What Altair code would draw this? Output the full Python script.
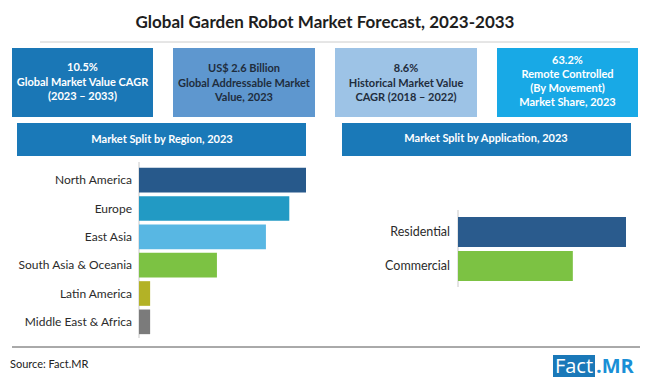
import altair as alt
import pandas as pd

# ---------------- data ----------------
title_text = "Global Garden Robot Market Forecast, 2023-2033"
kpi_lines = [
    ["10.5%", "Global Market Value CAGR", "(2023 \u2013 2033)"],
    ["US$ 2.6 Billion", "Global Addressable Market", "Value, 2023"],
    ["8.6%", "Historical Market Value", "CAGR (2018 \u2013 2022)"],
    ["63.2%", "Remote Controlled", "(By Movement)", "Market Share, 2023"],
]
region_title = "Market Split by Region, 2023"
application_title = "Market Split by Application, 2023"
regions = ["North America", "Europe", "East Asia", "South Asia & Oceania",
           "Latin America", "Middle East & Africa"]
region_values = [30.0, 27.0, 22.8, 14.0, 2.0, 2.0]
applications = ["Residential", "Commercial"]
application_values = [59.4, 40.6]
source_text = "Source: Fact.MR"

# ---------------- styles ----------------
region_colors = ["#27598b", "#229ac4", "#58b7e3", "#7cc243", "#b3b226", "#7b7b7b"]
application_colors = ["#2a5b8d", "#7cc243"]
kpi_fill = ["#1a77b6", "#5e97cf", "#9dc3e6", "#18a9e6"]
kpi_text_color = ["#ffffff", "#1f2d3d", "#1f2d3d", "#ffffff"]
BOX_FONT = "Lato"
LABEL_FONT = "Lato"

OFF = 8  # page margin


def px(v):
    return v - OFF


one = pd.DataFrame({"k": [0]})


def rect(x1, x2, y1, y2, color):
    return alt.Chart(one).mark_rect(color=color).encode(
        x=alt.value(px(x1)), x2=alt.value(px(x2)),
        y=alt.value(px(y1)), y2=alt.value(px(y2)))


def rule(x1, x2, y1, y2, color, width=1):
    return alt.Chart(one).mark_rule(color=color, strokeWidth=width).encode(
        x=alt.value(px(x1)), x2=alt.value(px(x2)),
        y=alt.value(px(y1)), y2=alt.value(px(y2)))


def text(t, x, y, size, color, weight="normal", font=BOX_FONT, align="center", lh=None):
    kw = dict(text=t, align=align, baseline="middle", fontSize=size, font=font,
              fontWeight=weight, color=color)
    if lh is not None:
        kw["lineHeight"] = lh
    return alt.Chart(one).mark_text(**kw).encode(x=alt.value(px(x)), y=alt.value(px(y)))


layers = []
# title
layers.append(text(title_text, 325, 23, 17, "#1e1e1e", "bold", "Lato"))
layers.append(rule(40, 630, 42, 42, "#cccccc"))

# KPI boxes
boxes = [(12, 153), (173, 315), (335, 477), (497, 638)]
first_line_y = [68, 69, 69, 61]
line_h = [14.5, 14.5, 14.5, 14]
for i, (a, b) in enumerate(boxes):
    layers.append(rect(a, b, 48, 117, kpi_fill[i]))
    layers.append(text(kpi_lines[i], (a + b) / 2, first_line_y[i], 11, kpi_text_color[i],
                       "bold", BOX_FONT, lh=line_h[i]))

# panel headers
layers.append(rect(17, 306, 123, 156, "#1a79b8"))
layers.append(text(region_title, 162, 140, 11, "#ffffff", "bold"))
layers.append(rect(342, 631, 123, 156, "#1a79b8"))
layers.append(text(application_title, 486, 139, 11, "#ffffff", "bold"))

# axis lines
layers.append(rule(139, 139, 162, 338, "#c8c8c8"))
layers.append(rule(458, 458, 210, 287, "#c8c8c8"))

# footer
layers.append(rule(12, 640, 347, 347, "#555555"))
layers.append(text(source_text, 10, 365, 11, "#222222", "normal", "Lato", align="left"))
layers.append(rect(553, 595, 355, 377, "#1a78b8"))
layers.append(text("Fact", 574, 366.5, 20, "#ffffff", "normal", "Open Sans"))
layers.append(text(".MR", 596, 366.5, 20, "#1a8fd6", "bold", "Open Sans", align="left"))

# ---------------- data charts ----------------
region_df = pd.DataFrame({"region": regions, "value": region_values})
ry = alt.Scale(domain=regions, range=[px(166), px(336)], paddingInner=0.13, paddingOuter=0.065)
region_bars = alt.Chart(region_df).mark_bar().encode(
    x=alt.X("value:Q", scale=alt.Scale(domain=[0, 30], range=[px(139), px(306)], nice=False), axis=None),
    y=alt.Y("region:N", sort=regions, scale=ry, axis=None),
    color=alt.Color("region:N", scale=alt.Scale(domain=regions, range=region_colors), legend=None),
)
region_labels = alt.Chart(region_df).mark_text(
    align="right", baseline="middle", fontSize=12, font=LABEL_FONT, color="#2b2b2b"
).encode(
    x=alt.value(px(132)),
    y=alt.Y("region:N", sort=regions, scale=ry, axis=None),
    text="region:N",
)
region_layer = alt.layer(region_bars, region_labels)

app_df = pd.DataFrame({"application": applications, "value": application_values})
ay = alt.Scale(domain=applications, range=[px(215), px(283)], paddingInner=0.12, paddingOuter=0.06)
app_bars = alt.Chart(app_df).mark_bar().encode(
    x=alt.X("value:Q", scale=alt.Scale(domain=[0, 59.4], range=[px(458), px(626)], nice=False), axis=None),
    y=alt.Y("application:N", sort=applications, scale=ay, axis=None),
    color=alt.Color("application:N", scale=alt.Scale(domain=applications, range=application_colors), legend=None),
)
app_labels = alt.Chart(app_df).mark_text(
    align="right", baseline="middle", fontSize=12.5, font=LABEL_FONT, color="#2b2b2b"
).encode(
    x=alt.value(px(450)),
    y=alt.Y("application:N", sort=applications, scale=ay, axis=None),
    text="application:N",
)
app_layer = alt.layer(app_bars, app_labels)

chart = alt.layer(*layers, region_layer, app_layer).resolve_scale(
    x="independent", y="independent", color="independent"
).properties(
    width=634, height=369, padding=0, autosize="none", background="#ffffff"
).configure_view(stroke=None)

chart.save("out.html", embed_options={"renderer": "svg", "actions": False})
